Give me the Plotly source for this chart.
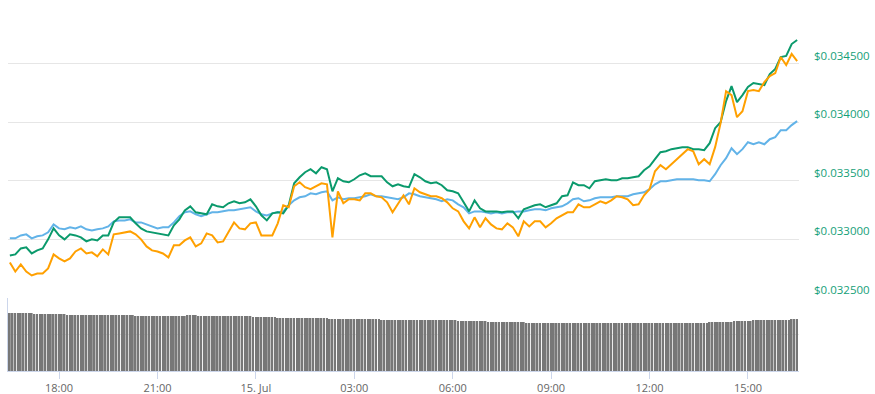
import pandas as pd
import plotly.graph_objects as go
from plotly.subplots import make_subplots

# ---------------- data ----------------
price_start = "2019-07-14 16:30"   # 10-minute price samples
volume_start = "2019-07-14 16:30"  # 5-minute volume bars

price_green = [
    0.032863, 0.032872, 0.032923, 0.032932, 0.032880, 0.032906, 0.032923, 0.033000, 0.033094, 0.033034,
    0.033000, 0.033043, 0.033034, 0.033017, 0.032983, 0.033000, 0.032991, 0.033034, 0.033034, 0.033145,
    0.033188, 0.033188, 0.033188, 0.033137, 0.033094, 0.033068, 0.033060, 0.033051, 0.033043, 0.033034,
    0.033120, 0.033171, 0.033248, 0.033282, 0.033231, 0.033222, 0.033214, 0.033299, 0.033282, 0.033274,
    0.033308, 0.033325, 0.033308, 0.033316, 0.033342, 0.033282, 0.033205, 0.033162, 0.033222, 0.033231,
    0.033222, 0.033291, 0.033479, 0.033530, 0.033573, 0.033599, 0.033564, 0.033616, 0.033599, 0.033410,
    0.033522, 0.033496, 0.033487, 0.033513, 0.033547, 0.033564, 0.033539, 0.033539, 0.033539, 0.033487,
    0.033453, 0.033470, 0.033453, 0.033445, 0.033556, 0.033530, 0.033496, 0.033479, 0.033487, 0.033462,
    0.033419, 0.033410, 0.033393, 0.033316, 0.033239, 0.033333, 0.033265, 0.033239, 0.033239, 0.033239,
    0.033231, 0.033239, 0.033239, 0.033180, 0.033257, 0.033274, 0.033291, 0.033299, 0.033274, 0.033291,
    0.033308, 0.033368, 0.033376, 0.033487, 0.033462, 0.033462, 0.033436, 0.033496, 0.033504, 0.033513,
    0.033504, 0.033504, 0.033522, 0.033522, 0.033530, 0.033539, 0.033590, 0.033624, 0.033684, 0.033744,
    0.033752, 0.033770, 0.033778, 0.033787, 0.033787, 0.033770, 0.033770, 0.033761, 0.033821, 0.033949,
    0.034000, 0.034180, 0.034308, 0.034171, 0.034231, 0.034300, 0.034334, 0.034325, 0.034317, 0.034411,
    0.034454, 0.034556, 0.034565, 0.034667, 0.034701,
]

price_orange = [
    0.032803, 0.032726, 0.032786, 0.032726, 0.032692, 0.032709, 0.032709, 0.032752, 0.032872, 0.032838,
    0.032812, 0.032838, 0.032897, 0.032923, 0.032880, 0.032889, 0.032855, 0.032915, 0.032872, 0.033043,
    0.033051, 0.033060, 0.033068, 0.033043, 0.033000, 0.032940, 0.032906, 0.032897, 0.032880, 0.032846,
    0.032949, 0.032949, 0.032991, 0.033017, 0.032940, 0.032966, 0.033051, 0.033034, 0.032974, 0.032983,
    0.033068, 0.033145, 0.033094, 0.033086, 0.033137, 0.033145, 0.033034, 0.033034, 0.033034, 0.033137,
    0.033291, 0.033274, 0.033453, 0.033487, 0.033445, 0.033428, 0.033453, 0.033479, 0.033470, 0.033017,
    0.033410, 0.033308, 0.033342, 0.033342, 0.033333, 0.033393, 0.033393, 0.033368, 0.033359, 0.033316,
    0.033231, 0.033299, 0.033376, 0.033299, 0.033436, 0.033402, 0.033385, 0.033368, 0.033368, 0.033351,
    0.033316, 0.033265, 0.033239, 0.033154, 0.033094, 0.033188, 0.033103, 0.033180, 0.033128, 0.033094,
    0.033086, 0.033137, 0.033103, 0.033026, 0.033154, 0.033111, 0.033154, 0.033154, 0.033103, 0.033137,
    0.033180, 0.033205, 0.033231, 0.033231, 0.033299, 0.033274, 0.033274, 0.033299, 0.033325, 0.033308,
    0.033333, 0.033368, 0.033359, 0.033342, 0.033291, 0.033299, 0.033376, 0.033428, 0.033581, 0.033633,
    0.033599, 0.033641, 0.033684, 0.033727, 0.033770, 0.033752, 0.033641, 0.033684, 0.033641, 0.033787,
    0.033992, 0.034265, 0.034231, 0.034043, 0.034094, 0.034265, 0.034274, 0.034265, 0.034342, 0.034394,
    0.034419, 0.034556, 0.034488, 0.034582, 0.034522,
]

price_blue = [
    0.033009, 0.033009, 0.033034, 0.033043, 0.033009, 0.033026, 0.033034, 0.033060, 0.033128, 0.033094,
    0.033086, 0.033103, 0.033094, 0.033111, 0.033086, 0.033077, 0.033086, 0.033094, 0.033111, 0.033154,
    0.033162, 0.033162, 0.033171, 0.033145, 0.033145, 0.033128, 0.033111, 0.033094, 0.033103, 0.033103,
    0.033145, 0.033197, 0.033231, 0.033239, 0.033214, 0.033197, 0.033214, 0.033231, 0.033231, 0.033239,
    0.033248, 0.033248, 0.033257, 0.033265, 0.033274, 0.033239, 0.033214, 0.033205, 0.033222, 0.033231,
    0.033239, 0.033291, 0.033333, 0.033359, 0.033368, 0.033393, 0.033385, 0.033402, 0.033410, 0.033333,
    0.033359, 0.033342, 0.033351, 0.033351, 0.033359, 0.033368, 0.033385, 0.033368, 0.033368, 0.033359,
    0.033351, 0.033342, 0.033359, 0.033393, 0.033385, 0.033368, 0.033359, 0.033351, 0.033342, 0.033325,
    0.033342, 0.033333, 0.033299, 0.033274, 0.033222, 0.033239, 0.033239, 0.033231, 0.033222, 0.033231,
    0.033222, 0.033231, 0.033231, 0.033239, 0.033239, 0.033248, 0.033257, 0.033257, 0.033248, 0.033265,
    0.033274, 0.033282, 0.033308, 0.033342, 0.033351, 0.033325, 0.033333, 0.033351, 0.033359, 0.033359,
    0.033359, 0.033368, 0.033368, 0.033368, 0.033385, 0.033393, 0.033402, 0.033428, 0.033470, 0.033496,
    0.033496, 0.033504, 0.033513, 0.033513, 0.033513, 0.033513, 0.033504, 0.033504, 0.033496, 0.033556,
    0.033633, 0.033693, 0.033778, 0.033727, 0.033770, 0.033829, 0.033812, 0.033829, 0.033812, 0.033855,
    0.033872, 0.033932, 0.033932, 0.033975, 0.034009,
]

volume = [
    158.9, 158.9, 158.9, 158.9, 158.9, 158.9, 158.9, 158.9, 158.9,
    156.2, 156.2, 156.2, 156.2, 156.2, 156.2, 156.2, 156.2, 156.2, 156.2, 156.2, 156.2,
    153.4, 153.4, 153.4, 153.4, 153.4, 153.4, 153.4, 153.4, 153.4, 153.4, 153.4, 153.4, 153.4,
    153.4, 153.4, 153.4, 153.4, 153.4, 153.4, 153.4, 153.4, 153.4, 153.4, 153.4, 153.4,
    150.7, 150.7, 150.7, 150.7, 150.7, 150.7, 150.7, 150.7, 150.7, 150.7,
    150.7, 150.7, 150.7, 150.7, 150.7, 150.7, 150.7, 150.7, 150.7,
    153.4, 153.4, 153.4, 153.4,
    150.7, 150.7, 150.7, 150.7, 150.7, 150.7, 150.7, 150.7, 150.7, 150.7,
    150.7, 150.7, 150.7, 150.7, 150.7, 150.7, 150.7, 150.7, 150.7, 150.7,
    147.9, 147.9, 147.9, 147.9, 147.9, 147.9, 147.9, 147.9, 147.9,
    145.2, 145.2, 145.2, 145.2, 145.2, 145.2, 145.2, 145.2, 145.2, 145.2,
    145.2, 145.2, 145.2, 145.2, 145.2, 145.2, 145.2, 145.2, 145.2,
    142.5, 142.5, 142.5, 142.5, 142.5, 142.5, 142.5, 142.5, 142.5, 142.5,
    142.5, 142.5, 142.5, 142.5, 142.5, 142.5, 142.5, 142.5, 142.5,
    139.7, 139.7, 139.7, 139.7, 139.7, 139.7, 139.7, 139.7, 139.7, 139.7,
    139.7, 139.7, 139.7, 139.7, 139.7, 139.7, 139.7, 139.7, 139.7, 139.7,
    139.7, 139.7, 139.7, 139.7, 139.7, 139.7, 139.7, 139.7,
    137.0, 137.0, 137.0, 137.0, 137.0, 137.0, 137.0, 137.0, 137.0, 137.0, 137.0,
    134.2, 134.2, 134.2, 134.2, 134.2, 134.2, 134.2, 134.2, 134.2, 134.2, 134.2, 134.2, 134.2, 134.2,
    131.5, 131.5, 131.5, 131.5, 131.5, 131.5, 131.5, 131.5, 131.5, 131.5,
    131.5, 131.5, 131.5, 131.5, 131.5, 131.5, 131.5, 131.5, 131.5, 131.5,
    131.5, 131.5, 131.5, 131.5, 131.5, 131.5, 131.5, 131.5, 131.5, 131.5,
    131.5, 131.5, 131.5, 131.5, 131.5, 131.5, 131.5, 131.5, 131.5, 131.5,
    131.5, 131.5, 131.5, 131.5, 131.5, 131.5, 131.5, 131.5, 131.5, 131.5,
    131.5, 131.5, 131.5, 131.5, 131.5, 131.5, 131.5, 131.5, 131.5, 131.5,
    131.5, 131.5, 131.5, 131.5, 131.5, 131.5, 131.5,
    134.2, 134.2, 134.2, 134.2, 134.2, 134.2, 134.2, 134.2, 134.2,
    137.0, 137.0, 137.0, 137.0, 137.0, 137.0, 137.0,
    139.7, 139.7, 139.7, 139.7, 139.7, 139.7, 139.7, 139.7, 139.7, 139.7, 139.7, 139.7, 139.7, 139.7,
    142.5, 142.5, 142.5,
]

price_ticks = [0.0325, 0.0330, 0.0335, 0.0340, 0.0345, 0.0350]
price_tick_labels = ["$0.032500", "$0.033000", "$0.033500", "$0.034000", "$0.034500", ""]
time_ticks = ["2019-07-14 18:00", "2019-07-14 21:00", "2019-07-15 00:00", "2019-07-15 03:00",
              "2019-07-15 06:00", "2019-07-15 09:00", "2019-07-15 12:00", "2019-07-15 15:00"]
time_tick_labels = ["18:00", "21:00", "15. Jul", "03:00", "06:00", "09:00", "12:00", "15:00"]

# ---------------- figure ----------------
t_price = pd.date_range(price_start, periods=len(price_green), freq="10min")
t_vol = pd.date_range(volume_start, periods=len(volume), freq="5min")

fig = make_subplots(rows=2, cols=1, shared_xaxes=True, vertical_spacing=0)

fig.add_trace(go.Scatter(x=t_price, y=price_blue, mode="lines",
                         line=dict(color="#62b3e8", width=2), hoverinfo="skip"), row=1, col=1)
fig.add_trace(go.Scatter(x=t_price, y=price_green, mode="lines",
                         line=dict(color="#0b9a6c", width=2), hoverinfo="skip"), row=1, col=1)
fig.add_trace(go.Scatter(x=t_price, y=price_orange, mode="lines",
                         line=dict(color="#ffa000", width=2), hoverinfo="skip"), row=1, col=1)
fig.add_trace(go.Bar(x=t_vol, y=volume, marker=dict(color="#777777", line=dict(width=0)),
                     hoverinfo="skip"), row=2, col=1)

x_range = ["2019-07-14 16:26:36", "2019-07-15 16:33:24"]

fig.update_layout(
    width=875, height=394,
    margin=dict(l=8, r=76, t=5, b=23, autoexpand=False),
    paper_bgcolor="white", plot_bgcolor="white",
    showlegend=False, bargap=0.35,
    font=dict(family="Open Sans, DejaVu Sans, sans-serif"),
    xaxis=dict(range=x_range, showgrid=False, showticklabels=False, showline=False,
               zeroline=False, ticks="", automargin=False),
    xaxis2=dict(range=x_range, showgrid=False, zeroline=False, automargin=False,
                showline=True, linecolor="#ccd6eb", linewidth=1,
                tickmode="array", tickvals=time_ticks, ticktext=time_tick_labels,
                ticks="outside", ticklen=7, tickcolor="#ccd6eb", tickwidth=1,
                tickfont=dict(size=11, color="#666666")),
    yaxis=dict(domain=[0.1995, 1], range=[0.0325, 0.0350], side="right", automargin=False,
               tickmode="array", tickvals=price_ticks, ticktext=price_tick_labels,
               ticklabelposition="outside top", ticklabelstandoff=14,
               showgrid=True, gridcolor="#e6e6e6", gridwidth=1, zeroline=False,
               showline=False, ticks="",
               tickfont=dict(size=11.5, color="#15a078")),
    yaxis2=dict(domain=[0, 0.1995], range=[0, 200], tickmode="array", tickvals=[100, 200],
                showticklabels=False, showgrid=True, gridcolor="#e6e6e6", gridwidth=1,
                automargin=False, zeroline=False, showline=True, linecolor="#ccd6eb",
                linewidth=1, ticks=""),
)

fig.write_html("out.html", config={"displayModeBar": False},
               post_script="document.body.style.margin='0';document.body.style.padding='0';")
